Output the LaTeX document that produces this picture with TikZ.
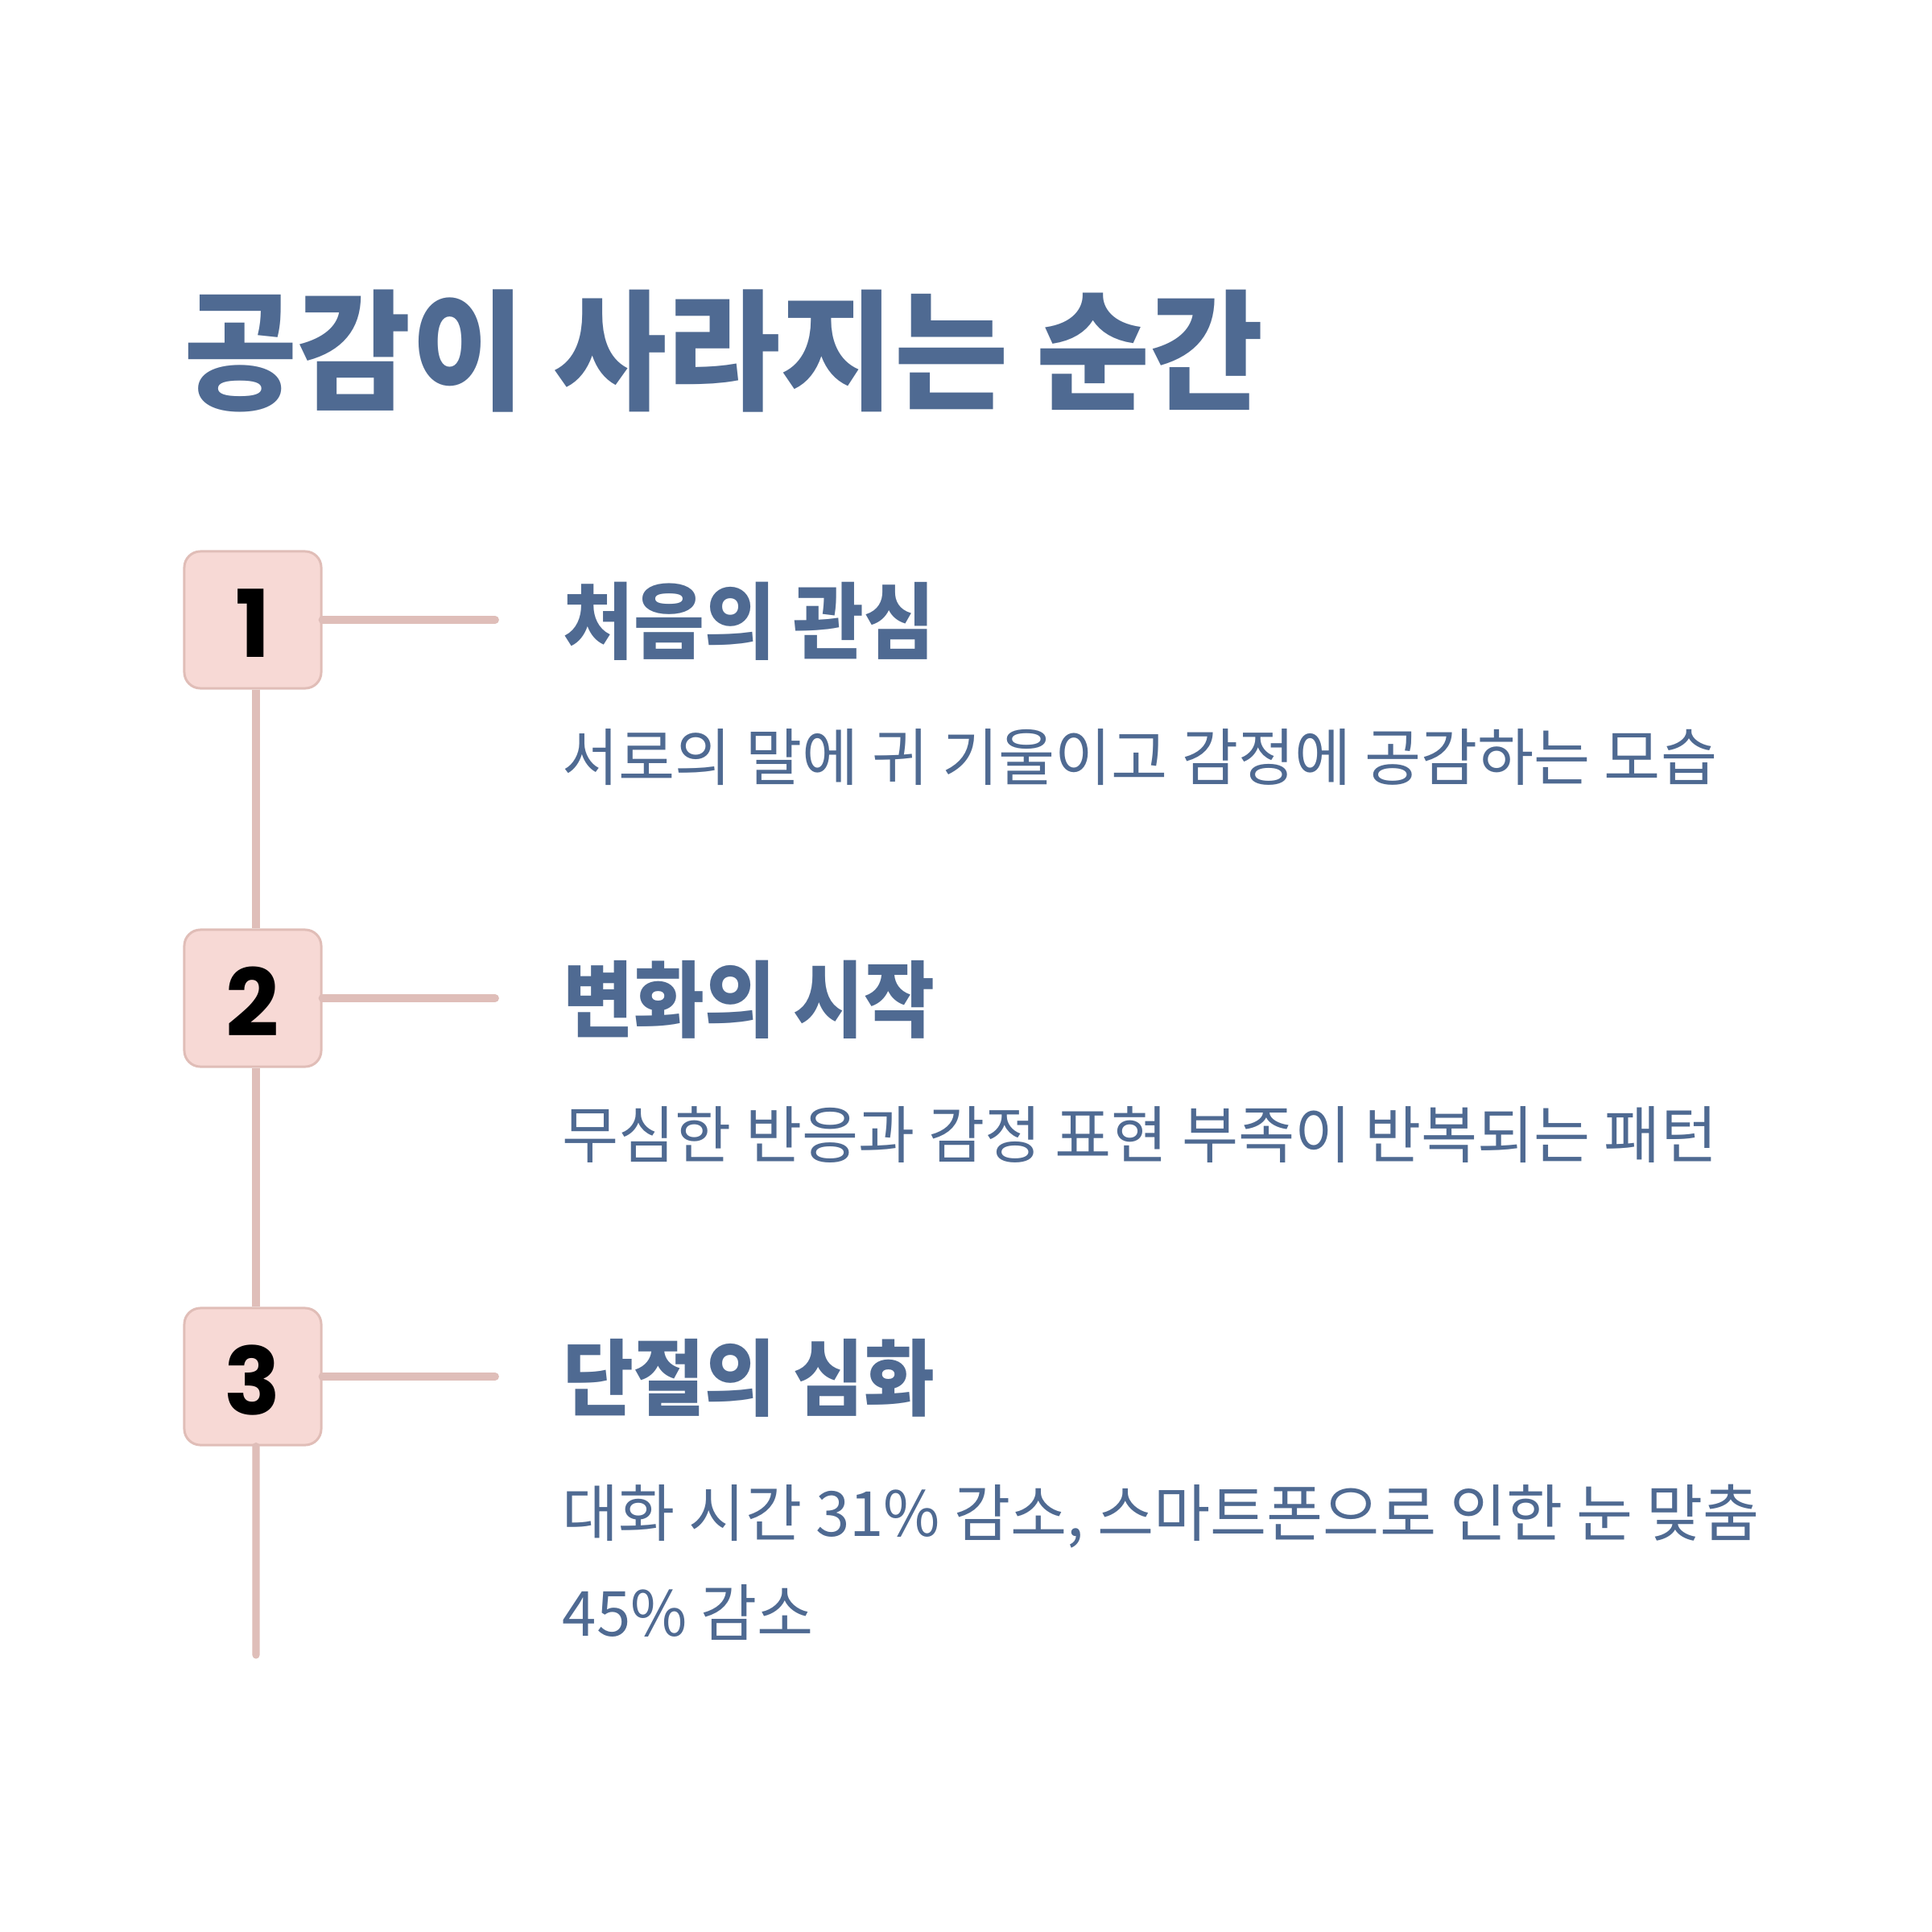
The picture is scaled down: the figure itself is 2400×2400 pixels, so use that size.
\documentclass[tikz,border=0pt]{standalone}
\usepackage{fontspec}
\newfontfamily\titlefont[FakeStretch=0.949]{Noto Sans CJK KR}
\newfontfamily\headfont[FakeStretch=0.924]{Noto Sans CJK KR}
\newfontfamily\descfont[FakeStretch=0.985]{Noto Sans CJK KR}
\newfontfamily\numfont{Poppins}
\definecolor{ink}{HTML}{4F6A92}
\definecolor{boxfill}{HTML}{F7D9D5}
\definecolor{boxline}{HTML}{E0BDB7}
\definecolor{conn}{HTML}{DFBEB9}
\tikzset{
  numbox/.style={draw=boxline, fill=boxfill, line width=0.85pt, rounded corners=0.2cm,
    minimum width=1.7cm, minimum height=1.7cm, inner sep=0pt},
  numtext/.style={inner sep=0pt, font=\numfont\bfseries\fontsize{33pt}{33pt}\selectfont, text=black},
  titletext/.style={anchor=base west, inner sep=0pt, text=ink, font=\titlefont\bfseries\fontsize{46pt}{52pt}\selectfont},
  headtext/.style={anchor=base west, inner sep=0pt, text=ink, font=\headfont\bfseries\fontsize{29.4pt}{34pt}\selectfont},
  desctext/.style={anchor=base west, inner sep=0pt, text=ink, font=\descfont\fontsize{22pt}{26pt}\selectfont},
  hline/.style={draw=conn, line width=2.8pt, line cap=round},
  vline/.style={draw=conn, line width=2.6pt, line cap=round}
}
\begin{document}
\begin{tikzpicture}[x=0.01cm,y=-0.01cm]
\useasboundingbox[fill=white] (0,0) rectangle (2400,2400);

\node[titletext] (title) at (228,496) {공감이 사라지는 순간};

% boxes
\node[numbox] (b1) at (314,770) {};
\node[numbox] (b2) at (314,1240) {};
\node[numbox] (b3) at (314,1710) {};
\node[numtext] (n1) at (314,774) {1};
\node[numtext] (n2) at (314,1244) {2};
\node[numtext] (n3) at (314,1714) {3};

% connector ends
\coordinate (e1) at (615,770);
\coordinate (e2) at (615,1240);
\coordinate (e3) at (615,1710);
\coordinate (vend) at (318,2056);

\draw[hline] (b1.east) -- (e1);
\draw[hline] (b2.east) -- (e2);
\draw[hline] (b3.east) -- (e3);
\draw[vline, line cap=butt] ([xshift=0.04cm]b1.south) -- ([xshift=0.04cm]b2.north);
\draw[vline, line cap=butt] ([xshift=0.04cm]b2.south) -- ([xshift=0.04cm]b3.north);
\draw[vline] ([xshift=0.04cm]b3.south) -- (vend);

% texts
\node[headtext] (h1) at (699,810) {처음의 관심};
\node[desctext] (d1) at (698,969) {서로의 말에 귀 기울이고 감정에 공감하는 모습};
\node[headtext] (h2) at (699,1280) {변화의 시작};
\node[desctext] (d2) at (698,1438) {무심한 반응과 감정 표현 부족이 반복되는 패턴};
\node[headtext] (h3) at (699,1750) {단절의 심화};
\node[desctext] (d3a) at (698,1908) {대화 시간 31\% 감소, 스마트폰으로 인한 눈 맞춤};
\node[desctext] (d3b) at (698,2032) {45\% 감소};
\end{tikzpicture}
\end{document}
